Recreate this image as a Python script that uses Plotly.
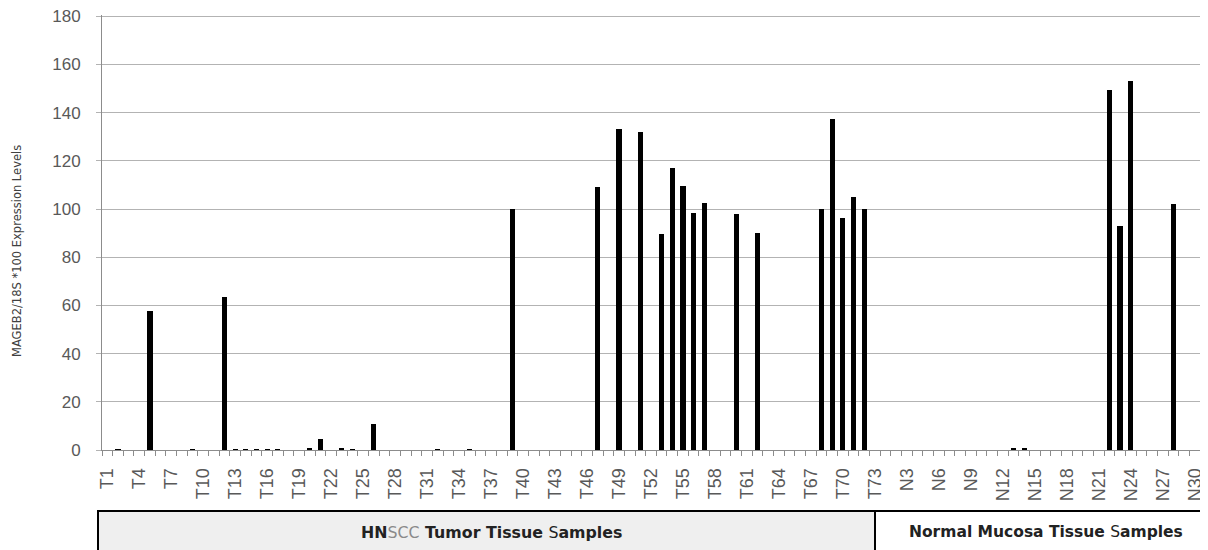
import plotly.graph_objects as go

tumor_labels = [f"T{i}" for i in range(1, 74)]
normal_labels = [f"N{i}" for i in range(1, 31)]
categories = tumor_labels + normal_labels

tumor_values = [
    0, 0.4, 0, 0, 57.5, 0, 0, 0, 0.4, 0,          # T1-T10
    0, 63.5, 0.4, 0.4, 0.4, 0.4, 0.4, 0, 0, 0.9,  # T11-T20
    4.7, 0, 0.8, 0.4, 0, 10.7, 0, 0, 0, 0,        # T21-T30
    0, 0.3, 0, 0, 0.3, 0, 0, 0, 100, 0,           # T31-T40
    0, 0, 0, 0, 0, 0, 109.3, 0, 133, 0,           # T41-T50
    132, 0, 89.6, 117.2, 109.7, 98.3, 102.4, 0, 0, 97.9,  # T51-T60
    0, 89.9, 0, 0, 0, 0, 0, 100, 137.4, 96.4,     # T61-T70
    104.9, 99.9, 0,                               # T71-T73
]
normal_values = [
    0, 0, 0, 0, 0, 0, 0, 0, 0, 0,                 # N1-N10
    0, 0, 0.5, 0.5, 0, 0, 0, 0, 0, 0,             # N11-N20
    0, 149.2, 92.9, 153.2, 0, 0, 0, 102.1, 0, 0,  # N21-N30
]
values = tumor_values + normal_values

y_ticks = [0, 20, 40, 60, 80, 100, 120, 140, 160, 180]
y_title = "MAGEB2/18S *100 Expression Levels"
group_tumor = "<b>HN</b><span style='color:#8a8a8a'>SCC</span><b> Tumor Tissue </b>S<b>amples</b>"
group_normal = "<b>Normal Mucosa Tissue </b>S<b>amples</b>"

x_idx = list(range(len(categories)))
label_idx = x_idx[::3]
label_text = [categories[i] for i in label_idx]

# page has an 8px body margin, so the figure is drawn 8px right/down
OFF = 8
W, H = 1208 - OFF, 550 - OFF
L, R, T, B = 102 - OFF, 0, 7, 100
pw = W - L - R
ph = H - T - B


def px_x(px):
    return (px - OFF - L) / pw


def px_y(py):
    return (H - B - (py - OFF)) / ph


fig = go.Figure()
fig.add_trace(go.Bar(
    x=x_idx, y=values, width=0.48,
    marker=dict(color="black", line=dict(width=0)),
    showlegend=False, hoverinfo="skip",
))

grid = "#b3b3b3"
axc = "#8c8c8c"
fig.update_layout(
    width=W, height=H,
    margin=dict(l=L, r=R, t=T, b=B, autoexpand=False),
    paper_bgcolor="white", plot_bgcolor="white",
    font=dict(family="Liberation Sans, Arial, sans-serif", color="#595959"),
    bargap=0,
    xaxis=dict(
        range=[-0.5, 103.25], automargin=False,
        tickmode="array", tickvals=label_idx, ticktext=label_text,
        tickangle=-90, ticks="", showgrid=False,
        tickfont=dict(size=18, color="#595959"),
        ticklabelstandoff=10, ticklabeloverflow="allow",
        showline=True, linecolor=axc, linewidth=1,
        minor=dict(ticks="outside", tick0=-0.5, dtick=1, ticklen=5,
                   tickcolor=axc, tickwidth=1, showgrid=False),
        zeroline=False,
    ),
    yaxis=dict(
        range=[0, 180.5], tickvals=y_ticks, automargin=False,
        showgrid=True, gridcolor=grid, gridwidth=1,
        ticks="outside", ticklen=5, tickcolor=grid,
        tickfont=dict(size=17, color="#595959"),
        ticklabelstandoff=12, ticklabeloverflow="allow",
        showline=True, linecolor=axc, linewidth=1,
        zeroline=False,
    ),
)

# group boxes below the axis
box_top = px_y(511)
box_bot = px_y(553)
x_left = px_x(98)
x_div = px_x(875)
x_right = px_x(1212)
fig.add_shape(type="rect", xref="paper", yref="paper",
              x0=x_left, x1=x_div, y0=box_bot, y1=box_top,
              fillcolor="#efefef", line=dict(color="black", width=2), layer="below")
fig.add_shape(type="rect", xref="paper", yref="paper",
              x0=x_div, x1=x_right, y0=box_bot, y1=box_top,
              fillcolor="white", line=dict(color="black", width=2), layer="below")

fig.add_annotation(xref="paper", yref="paper", x=px_x(491), y=px_y(532),
                   text=group_tumor, showarrow=False, xanchor="center", yanchor="middle",
                   font=dict(family="DejaVu Sans, sans-serif", size=15.8, color="#222222"))
fig.add_annotation(xref="paper", yref="paper", x=px_x(1046), y=px_y(532),
                   text=group_normal, showarrow=False, xanchor="center", yanchor="middle",
                   font=dict(family="DejaVu Sans, sans-serif", size=15.5, color="#222222"))

fig.add_annotation(xref="paper", yref="paper", x=px_x(17), y=px_y(251),
                   text=y_title, textangle=-90, showarrow=False,
                   xanchor="center", yanchor="middle",
                   font=dict(family="DejaVu Sans, sans-serif", size=11.5, color="#404040"))

fig.write_html("out.html")
